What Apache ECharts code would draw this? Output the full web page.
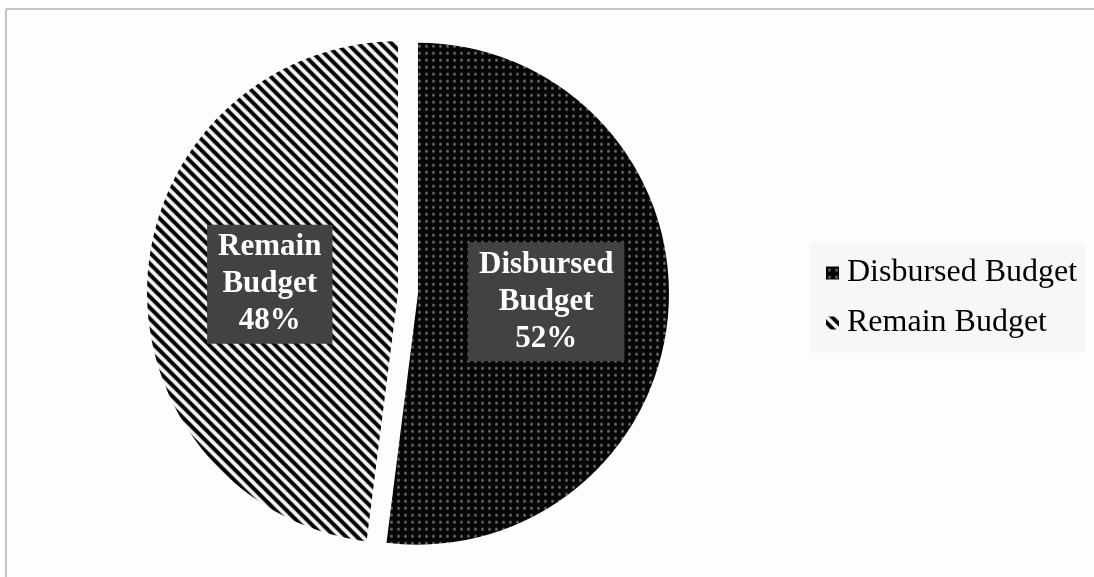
<!DOCTYPE html>
<html>
<head>
<meta charset="utf-8">
<script src="https://cdn.jsdelivr.net/npm/echarts@6/dist/echarts.min.js"></script>
<style>
html,body{margin:0;padding:0;background:#fdfdfd;}
#chart{width:1094px;height:577px;}
</style>
</head>
<body>
<div id="chart"></div>
<script>
const categories = ['Disbursed Budget', 'Remain Budget'];
const values = [52, 48];

function dotPattern() {
  const c = document.createElement('canvas');
  c.width = 7; c.height = 7;
  const g = c.getContext('2d');
  g.fillStyle = '#060606';
  g.fillRect(0, 0, 7, 7);
  g.fillStyle = '#6a6a6a';
  g.beginPath();
  g.arc(3.5, 3.5, 1.5, 0, Math.PI * 2);
  g.fill();
  return c;
}
function stripePattern() {
  const s = 11;
  const c = document.createElement('canvas');
  c.width = s; c.height = s;
  const g = c.getContext('2d');
  g.fillStyle = '#000';
  g.fillRect(0, 0, s, s);
  g.strokeStyle = '#f4f4f4';
  g.lineWidth = 3.8;
  g.beginPath();
  g.moveTo(-2, -2); g.lineTo(s + 2, s + 2);
  g.moveTo(-2, s - 2); g.lineTo(2, s + 2);
  g.moveTo(s - 2, -2); g.lineTo(s + 2, 2);
  g.stroke();
  return c;
}
const fills = [
  { image: dotPattern(), repeat: 'repeat' },
  { image: stripePattern(), repeat: 'repeat' }
];

const chart = echarts.init(document.getElementById('chart'));
chart.setOption({
  animation: false,
  backgroundColor: '#fdfdfd',
  graphic: [
    { type: 'line', shape: { x1: 6, y1: 9, x2: 1100, y2: 9 }, style: { stroke: '#c4c4c4', lineWidth: 2 } },
    { type: 'line', shape: { x1: 6, y1: 9, x2: 6, y2: 580 }, style: { stroke: '#c4c4c4', lineWidth: 2 } }
  ],
  legend: {
    orient: 'vertical',
    left: 810,
    top: 243,
    backgroundColor: '#f7f7f7',
    padding: [14, 8, 14, 16],
    itemWidth: 13,
    itemHeight: 13,
    itemGap: 18,
    icon: 'rect',
    data: categories,
    selectedMode: false,
    textStyle: { fontFamily: 'Liberation Serif', fontSize: 32, color: '#000', padding: [0, 0, 0, 3] }
  },
  series: [{
    type: 'pie',
    center: [408, 293],
    radius: 251,
    startAngle: 90,
    clockwise: true,
    selectedMode: 'multiple',
    selectedOffset: 10,
    itemStyle: { borderWidth: 0 },
    label: {
      show: true,
      position: 'inside',
      formatter: function (p) { return p.name.replace(' ', '\n') + '\n' + Math.round(p.percent) + '%'; },
      color: '#fff',
      fontFamily: 'Liberation Serif',
      fontWeight: 'bold',
      fontSize: 31,
      lineHeight: 37,
      align: 'center',
      backgroundColor: '#424242',
      padding: [5, 11, 3, 11]
    },
    labelLine: { show: false },
    emphasis: { disabled: true },
    data: categories.map((n, i) => ({ name: n, value: values[i], selected: true, itemStyle: { color: fills[i] } }))
  }]
});
</script>
</body>
</html>
